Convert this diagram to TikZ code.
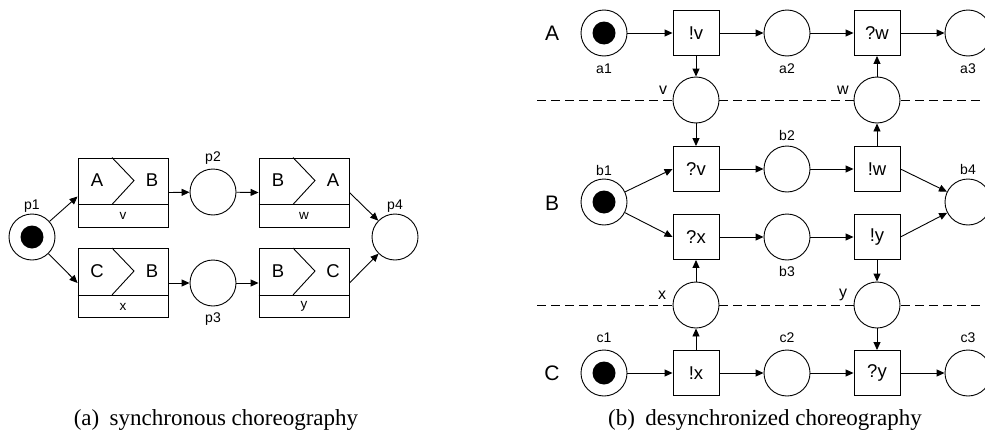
\documentclass[tikz,border=0pt]{standalone}
\usepackage{fontspec}
\setmainfont{Liberation Serif}
\newfontfamily\hv{Liberation Sans}
\usetikzlibrary{arrows.meta}
\begin{document}
\begin{tikzpicture}[x=1pt,y=-1pt,
  every node/.style={font=\hv},
  place/.style={circle,draw,fill=white,minimum size=46pt,inner sep=0pt,line width=0.9pt},
  trans/.style={rectangle,draw,fill=white,minimum width=46pt,minimum height=45pt,inner sep=0pt,line width=0.9pt,font=\hv\fontsize{18.5}{21}\selectfont},
  cbox/.style={rectangle,draw,minimum width=90pt,minimum height=69pt,inner sep=0pt,line width=0.9pt},
  boxl/.style={inner sep=0pt,font=\hv\fontsize{18.5}{21}\selectfont},
  small/.style={inner sep=0pt,font=\hv\fontsize{13.5}{16}\selectfont},
  lab/.style={inner sep=0pt,font=\hv\fontsize{14}{16}\selectfont},
  chan/.style={inner sep=0pt,font=\hv\fontsize{16}{19}\selectfont},
  big/.style={inner sep=0pt,font=\hv\fontsize{21}{24}\selectfont},
  arr/.style={-{Triangle[length=8pt,width=7pt]},line width=0.9pt},
  ln/.style={line width=0.9pt},
  sep/.style={dash pattern=on 9pt off 5pt,line width=0.9pt},
  captxt/.style={inner sep=0pt,anchor=base,font=\rmfamily\fontsize{23}{27}\selectfont}
]
\useasboundingbox (0,0) rectangle (985,439);

% ---------- (a) synchronous choreography ----------
\node[place] (p1) at (32,237) {};
\fill (p1.center) circle (11.5pt);
\node[lab] (p1-lab) at (32,206) {p1};

\foreach \n/\x/\y/\l/\r/\m in {tv/123/192.5/A/B/v, tx/123/283/C/B/x, tw/304/192.5/B/A/w, ty/304/283/B/C/y}{
  \node[cbox] (\n) at (\x,\y) {};
  \draw[ln] ([yshift=23pt]\n.south west) -- ([yshift=23pt]\n.south east);
  \draw[ln] ([xshift=-11pt]\n.north) -- ([xshift=11pt,yshift=-23pt]\n.north) -- ([xshift=-11pt,yshift=23pt]\n.south);
  \node[boxl] (\n-l) at ([xshift=-26pt,yshift=-23pt]\n.north) {\l};
  \node[boxl] (\n-r) at ([xshift=29pt,yshift=-23pt]\n.north) {\r};
  \node[small] (\n-m) at ([yshift=11.5pt]\n.south) {\m};
}

\node[place] (p2) at (213,192) {};
\node[lab] (p2-lab) at (213,158) {p2};
\node[place] (p3) at (213,283) {};
\node[lab] (p3-lab) at (213,319) {p3};
\node[place] (p4) at (395,237) {};
\node[lab] (p4-lab) at (395,206) {p4};

\draw[arr] (p1) -- ([yshift=-4pt]tv.west);
\draw[arr] (p1) -- (tx.west);
\draw[arr] (tv.east) -- (p2);
\draw[arr] (p2) -- (tw.west);
\draw[arr] (tx.east) -- (p3);
\draw[arr] (p3) -- (ty.west);
\draw[arr] (tw.east) -- (p4);
\draw[arr] (ty.east) -- (p4);

\node[captxt] (capa) at (216,425) {(a)\hspace{0.45em}synchronous choreography};

% ---------- (b) desynchronized choreography ----------
\coordinate (d1s) at (537,100);
\coordinate (d1e) at (990,100);
\coordinate (d2s) at (537,305);
\coordinate (d2e) at (990,305);
\draw[sep] (d1s) -- (d1e);
\draw[sep] (d2s) -- (d2e);

\node[big] (rA) at (552,33) {A};
\node[big] (rB) at (552,203) {B};
\node[big] (rC) at (552,373) {C};

% row A
\node[place] (a1) at (604,33) {};
\fill (a1.center) circle (11.5pt);
\node[trans] (sv) at (696,33) {!v};
\node[place] (a2) at (787,33) {};
\node[trans] (rw) at (877,33) {?w};
\node[place] (a3) at (968,33) {};
\node[lab] (a1-lab) at (604,69) {a1};
\node[lab] (a2-lab) at (787,69) {a2};
\node[lab] (a3-lab) at (968,69) {a3};

% channels v, w
\node[place] (mv) at (696,100) {};
\node[place] (mw) at (877,100) {};
\node[chan] (mv-lab) at (663,90) {v};
\node[chan] (mw-lab) at (843,90) {w};

% row B
\node[place] (b1) at (604,202) {};
\fill (b1.center) circle (11.5pt);
\node[lab] (b1-lab) at (604,170) {b1};
\node[trans] (rv) at (696,169) {?v};
\node[place] (b2) at (787,169) {};
\node[lab] (b2-lab) at (787,135) {b2};
\node[trans] (sw) at (877,169) {!w};
\node[place] (b4) at (968,202) {};
\node[lab] (b4-lab) at (968,169) {b4};
\node[trans] (rx) at (696,237) {?x};
\node[place] (b3) at (787,237) {};
\node[lab] (b3-lab) at (787,271) {b3};
\node[trans] (sy) at (877,237) {!y};

% channels x, y
\node[place] (mx) at (696,305) {};
\node[place] (my) at (877,305) {};
\node[chan] (mx-lab) at (662,295) {x};
\node[chan] (my-lab) at (843,295) {y};

% row C
\node[place] (c1) at (604,373) {};
\fill (c1.center) circle (11.5pt);
\node[trans] (sx) at (696,373) {!x};
\node[place] (c2) at (787,373) {};
\node[trans] (ry) at (877,373) {?y};
\node[place] (c3) at (968,373) {};
\node[lab] (c1-lab) at (604,338) {c1};
\node[lab] (c2-lab) at (787,338) {c2};
\node[lab] (c3-lab) at (968,338) {c3};

% arcs
\draw[arr] (a1) -- (sv);
\draw[arr] (sv) -- (a2);
\draw[arr] (a2) -- (rw);
\draw[arr] (rw) -- (a3);
\draw[arr] (sv) -- (mv);
\draw[arr] (mv) -- (rv);
\draw[arr] (mw) -- (rw);
\draw[arr] (sw) -- (mw);
\draw[arr] (b1) -- (rv.west);
\draw[arr] (b1) -- (rx.west);
\draw[arr] (rv) -- (b2);
\draw[arr] (b2) -- (sw);
\draw[arr] (sw.east) -- (b4);
\draw[arr] (rx) -- (b3);
\draw[arr] (b3) -- (sy);
\draw[arr] (sy.east) -- (b4);
\draw[arr] (sx) -- (mx);
\draw[arr] (mx) -- (rx);
\draw[arr] (sy) -- (my);
\draw[arr] (my) -- (ry);
\draw[arr] (c1) -- (sx);
\draw[arr] (sx) -- (c2);
\draw[arr] (c2) -- (ry);
\draw[arr] (ry) -- (c3);

\node[captxt] (capb) at (765,425) {(b)\hspace{0.45em}desynchronized choreography};
\end{tikzpicture}
\end{document}
